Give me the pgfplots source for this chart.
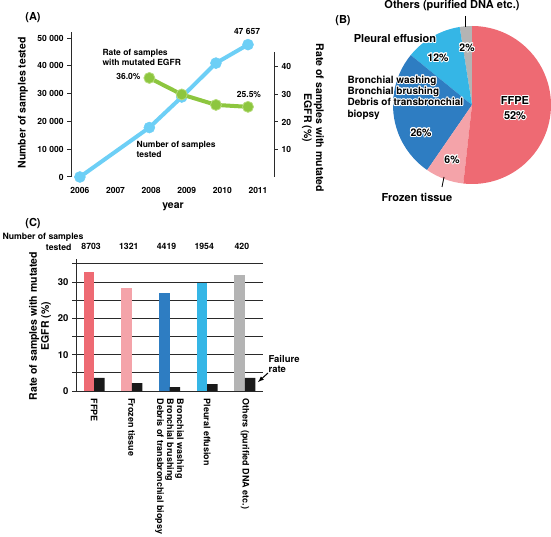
\documentclass[border=0pt]{standalone}
\usepackage{pgfplots}
\pgfplotsset{compat=1.18}
\usepackage{fontspec}
\setmainfont{TeX Gyre Heros}
\usepackage{contour}
\contourlength{0.9pt}
\definecolor{cBlueLine}{HTML}{6DCFF6}
\definecolor{cGreen}{HTML}{8DC63F}
\definecolor{cGreenL}{HTML}{B5DB7A}
\definecolor{cFFPE}{HTML}{EE6A73}
\definecolor{cFrozen}{HTML}{F4A3A9}
\definecolor{cBronch}{HTML}{2E7DC2}
\definecolor{cPleural}{HTML}{35B6E6}
\definecolor{cOther}{HTML}{B4B4B4}
\definecolor{cAxis}{HTML}{2A2A2A}
\definecolor{cBlack}{HTML}{1A1A1A}

\begin{document}
\begin{tikzpicture}[font=\bfseries]
\useasboundingbox (0pt,0pt) rectangle (551pt,536pt);

% ---------------- Panel A: number of samples (left axis)
\begin{axis}[
  at={(71pt,359pt)}, anchor=south west, scale only axis, width=203pt, height=145pt,
  xmin=2005.75, xmax=2011.45, ymin=0, ymax=52200,
  scaled y ticks=false, scaled x ticks=false,
  axis y line*=left, axis x line*=bottom,
  axis line style={-},
  x axis line style={draw=none},
  y axis line style={cAxis, line width=1pt},
  xtick={2006,2007,2008,2009,2010,2011},
  xticklabels={2006,2007,2008,2009,2010,2011},
  major x tick style={draw=none},
  ytick={0,10000,20000,30000,40000,50000},
  yticklabels={0,10 000,20 000,30 000,40 000,50 000},
  tick align=outside, major tick length=4pt,
  major y tick style={cAxis, line width=1pt},
  ticklabel style={font=\fontsize{8.5}{10}\bfseries},
  xticklabel style={yshift=-3pt},
  clip=false,
]
\addplot[cBlueLine, line width=4pt, mark=*, mark size=5.5pt,
  mark options={fill=cBlueLine, draw=cBlueLine, line width=0.5pt}]
  coordinates {(2006,0) (2007.95,17800) (2008.86,28800) (2009.82,41000) (2010.72,47657)};
\end{axis}

% ---------------- Panel A: rate with mutated EGFR (right axis)
\begin{axis}[
  at={(71pt,359pt)}, anchor=south west, scale only axis, width=203pt, height=145pt,
  xmin=2005.75, xmax=2011.45, ymin=0, ymax=52.7,
  scaled y ticks=false,
  axis y line*=right, axis x line=none,
  axis line style={-},
  y axis line style={draw=none},
  ytick={10,20,30,40},
  yticklabels={10,20,30,40},
  tick align=outside, major tick length=4pt,
  major y tick style={cAxis, line width=1pt},
  ticklabel style={font=\fontsize{8.5}{10}\bfseries},
  clip=false,
]
\draw[cAxis, line width=1pt] (rel axis cs:1,0) -- (axis cs:2011.45,45.5);
\addplot[cGreen, line width=4pt, mark=*, mark size=5.5pt,
  mark options={fill=cGreen, draw=cGreenL, line width=0.8pt}]
  coordinates {(2007.95,36.0) (2008.86,30.0) (2009.82,26.2) (2010.72,25.5)};
\end{axis}

% Panel A texts
\node[font=\fontsize{11}{13}\bfseries] at (33pt,518pt) {(A)};
\node[rotate=90, font=\fontsize{10.5}{12}\bfseries] at (23pt,433pt) {Number of samples tested};
\node[rotate=-90, align=center, font=\fontsize{10.5}{12}\bfseries] at (313pt,418pt) {Rate of samples with mutated\\EGFR (\%)};
\node[font=\fontsize{10.5}{12}\bfseries] at (173pt,329pt) {year};
\node[anchor=west, align=left, font=\fontsize{8.5}{10}\bfseries] at (99pt,479pt) {Rate of samples\\with mutated EGFR};
\node[anchor=east, font=\fontsize{8.5}{10}\bfseries] at (144pt,459pt) {36.0\%};
\node[font=\fontsize{8.5}{10}\bfseries] at (247pt,505pt) {47 657};
\node[font=\fontsize{8.5}{10}\bfseries] at (249pt,441pt) {25.5\%};
\node[anchor=west, align=left, font=\fontsize{8.5}{10}\bfseries] at (133pt,387pt) {Number of samples\\tested};

% ---------------- Panel B: pie of sample types (counts / 100)
\pgfmathsetmacro{\tot}{87.03+13.21+44.19+19.54+4.20}
\pgfmathsetmacro{\aA}{90}
\pgfmathsetmacro{\aB}{\aA+360*4.20/\tot}
\pgfmathsetmacro{\aC}{\aB+360*19.54/\tot}
\pgfmathsetmacro{\aD}{\aC+360*44.19/\tot}
\pgfmathsetmacro{\aE}{\aD+360*13.21/\tot}
\pgfmathsetmacro{\aF}{450}
\begin{axis}[
  at={(472pt,431pt)}, anchor=center, hide axis, scale only axis,
  width=200pt, height=200pt, xmin=-100, xmax=100, ymin=-100, ymax=100, clip=false,
]
\fill[cOther]   (axis cs:0,0) -- ++(\aA:79pt) arc[start angle=\aA, end angle=\aB, radius=79pt] -- cycle;
\fill[cPleural] (axis cs:0,0) -- ++(\aB:79pt) arc[start angle=\aB, end angle=\aC, radius=79pt] -- cycle;
\fill[cBronch]  (axis cs:0,0) -- ++(\aC:79pt) arc[start angle=\aC, end angle=\aD, radius=79pt] -- cycle;
\fill[cFrozen]  (axis cs:0,0) -- ++(\aD:79pt) arc[start angle=\aD, end angle=\aE, radius=79pt] -- cycle;
\fill[cFFPE]    (axis cs:0,0) -- ++(\aE:79pt) arc[start angle=\aE, end angle=\aF, radius=79pt] -- cycle;
\end{axis}

\node[font=\fontsize{11}{13}\bfseries] at (343pt,515pt) {(B)};
\node[font=\fontsize{11}{13}\bfseries] at (452pt,530pt) {Others (purified DNA etc.)};
\draw[line width=0.8pt] (465pt,520pt) -- (465pt,509pt);
\node[font=\fontsize{11}{13}\bfseries] at (395pt,497pt) {\contour{white}{Pleural effusion}};
\node[font=\fontsize{10.5}{12}\bfseries] at (438pt,478pt) {\contour{white}{12\%}};
\node[font=\fontsize{10.5}{12}\bfseries] at (467pt,488pt) {\contour{white}{2\%}};
\node[anchor=west, align=left, font=\fontsize{10}{11.3}\bfseries] at (344pt,438pt)
  {\contour{white}{Bronchial washing}\\\contour{white}{Bronchial brushing}\\\contour{white}{Debris of transbronchial}\\\contour{white}{biopsy}};
\node[font=\fontsize{10.5}{12}\bfseries] at (421pt,403pt) {\contour{white}{26\%}};
\node[font=\fontsize{10.5}{12}\bfseries] at (452pt,376pt) {\contour{white}{6\%}};
\node[align=center, font=\fontsize{11}{14.5}\bfseries] at (515pt,427.5pt) {\contour{white}{FFPE}\\\contour{white}{52\%}};
\node[font=\fontsize{11}{13}\bfseries] at (417pt,339pt) {Frozen tissue};
\draw[line width=0.8pt] (444pt,359pt) -- (442pt,349pt);

% ---------------- Panel C: bars
\begin{axis}[
  at={(76pt,145pt)}, anchor=south west, scale only axis, width=187pt, height=132.5pt,
  xmin=-0.48, xmax=4.48, ymin=0, ymax=36.5,
  axis y line*=left, axis x line*=bottom,
  axis line style={-},
  y axis line style={cAxis, line width=1pt},
  x axis line style={cAxis, line width=0.9pt},
  ytick={0,5,10,15,20,25,30,35},
  yticklabels={0,,10,,20,,30,},
  ymajorgrids, grid style={cAxis, line width=0.9pt},
  tick align=outside, major tick length=4pt,
  major y tick style={cAxis, line width=1pt},
  major x tick style={draw=none},
  xtick={0,1,2,3,4},
  xticklabels={FFPE, Frozen tissue, {Bronchial washing\\Bronchial brushing\\Debris of transbronchial biopsy}, Pleural effusion, Others (purified DNA etc.)},
  xticklabel style={rotate=-90, anchor=west, align=left, font=\fontsize{9}{10}\bfseries},
  yticklabel style={font=\fontsize{9.5}{11}\bfseries},
  clip=false,
]
\addplot[ybar, bar width=10.5pt, bar shift=-5.25pt, fill=cFFPE, draw=none] coordinates {(0,32.8)};
\addplot[ybar, bar width=10.5pt, bar shift=-5.25pt, fill=cFrozen, draw=none] coordinates {(1,28.4)};
\addplot[ybar, bar width=10.5pt, bar shift=-5.25pt, fill=cBronch, draw=none] coordinates {(2,27.0)};
\addplot[ybar, bar width=10.5pt, bar shift=-5.25pt, fill=cPleural, draw=none] coordinates {(3,29.8)};
\addplot[ybar, bar width=10.5pt, bar shift=-5.25pt, fill=cOther, draw=none] coordinates {(4,32.0)};
\addplot[ybar, bar width=10.5pt, bar shift=5.25pt, fill=cBlack, draw=none]
  coordinates {(0,3.6) (1,2.2) (2,1.1) (3,1.9) (4,3.6)};
\node[font=\fontsize{8.7}{10}\bfseries, xshift=-3pt] at (axis cs:0,39.7) {8703};
\node[font=\fontsize{8.7}{10}\bfseries, xshift=-3pt] at (axis cs:1,39.7) {1321};
\node[font=\fontsize{8.7}{10}\bfseries, xshift=-3pt] at (axis cs:2,39.7) {4419};
\node[font=\fontsize{8.7}{10}\bfseries, xshift=-3pt] at (axis cs:3,39.7) {1954};
\node[font=\fontsize{8.7}{10}\bfseries, xshift=-3pt] at (axis cs:4,39.7) {420};
\end{axis}

\node[font=\fontsize{11}{13}\bfseries] at (33pt,312pt) {(C)};
\node[anchor=west, font=\fontsize{8.7}{10}\bfseries] at (-1pt,299pt) {Number of samples};
\node[anchor=east, font=\fontsize{8.7}{10}\bfseries] at (75pt,289pt) {tested};
\node[rotate=90, align=center, font=\fontsize{10.5}{12}\bfseries] at (40pt,210pt) {Rate of samples with mutated\\EGFR (\%)};
\node[anchor=west, align=left, font=\fontsize{9.5}{10.5}\bfseries] at (265pt,172pt) {Failure\\rate};
\draw[-latex, line width=1pt] (268pt,163pt) -- (258pt,154pt);

\end{tikzpicture}
\end{document}
